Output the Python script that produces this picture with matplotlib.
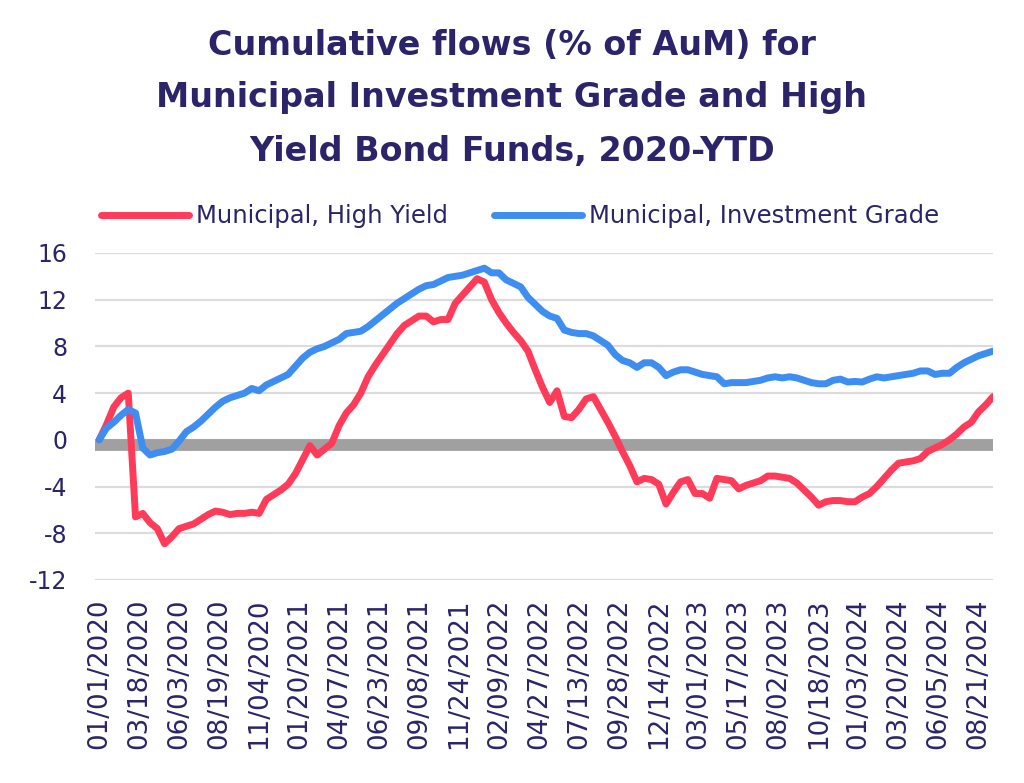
import pandas as pd
import matplotlib.pyplot as plt

plt.rcParams["axes.unicode_minus"] = False

# Datos: flujos acumulados (% de AuM), una lectura cada dos semanas desde 01/01/2020
fechas = pd.date_range("2020-01-01", periods=124, freq="14D")

high_yield = [
    0.0, 1.3, 2.8, 3.6, 4.0, -6.6, -6.3, -7.1, -7.6, -8.9,
    -8.3, -7.6, -7.4, -7.2, -6.8, -6.4, -6.1, -6.2, -6.4, -6.3,
    -6.3, -6.2, -6.3, -5.1, -4.7, -4.3, -3.8, -2.9, -1.7, -0.5,
    -1.3, -0.8, -0.3, 1.2, 2.3, 3.0, 4.0, 5.4, 6.4, 7.3,
    8.2, 9.1, 9.8, 10.2, 10.6, 10.6, 10.1, 10.3, 10.3, 11.7,
    12.4, 13.1, 13.8, 13.5, 12.0, 10.9, 10.0, 9.2, 8.5, 7.6,
    6.0, 4.5, 3.2, 4.2, 2.0, 1.9, 2.6, 3.5, 3.7, 2.6,
    1.5, 0.3, -1.0, -2.2, -3.6, -3.3, -3.4, -3.8, -5.5, -4.5,
    -3.6, -3.4, -4.6, -4.6, -5.0, -3.3, -3.4, -3.5, -4.2, -3.9,
    -3.7, -3.5, -3.1, -3.1, -3.2, -3.3, -3.7, -4.3, -4.9, -5.6,
    -5.3, -5.2, -5.2, -5.3, -5.3, -4.9, -4.6, -4.0, -3.3, -2.6,
    -2.0, -1.9, -1.8, -1.6, -1.0, -0.7, -0.4, 0.0, 0.5, 1.1,
    1.5, 2.4, 3.0, 3.7,
]

investment_grade = [
    0.0, 1.0, 1.5, 2.1, 2.6, 2.3, -0.7, -1.3, -1.1, -1.0,
    -0.8, -0.1, 0.7, 1.1, 1.6, 2.2, 2.8, 3.3, 3.6, 3.8,
    4.0, 4.4, 4.2, 4.7, 5.0, 5.3, 5.6, 6.3, 7.0, 7.5,
    7.8, 8.0, 8.3, 8.6, 9.1, 9.2, 9.3, 9.7, 10.2, 10.7,
    11.2, 11.7, 12.1, 12.5, 12.9, 13.2, 13.3, 13.6, 13.9, 14.0,
    14.1, 14.3, 14.5, 14.7, 14.3, 14.3, 13.7, 13.4, 13.1, 12.2,
    11.6, 11.0, 10.6, 10.4, 9.4, 9.2, 9.1, 9.1, 8.9, 8.5,
    8.1, 7.3, 6.8, 6.6, 6.2, 6.6, 6.6, 6.2, 5.5, 5.8,
    6.0, 6.0, 5.8, 5.6, 5.5, 5.4, 4.8, 4.9, 4.9, 4.9,
    5.0, 5.1, 5.3, 5.4, 5.3, 5.4, 5.3, 5.1, 4.9, 4.8,
    4.8, 5.1, 5.2, 4.95, 5.0, 4.95, 5.2, 5.4, 5.3, 5.4,
    5.5, 5.6, 5.7, 5.9, 5.9, 5.6, 5.7, 5.7, 6.2, 6.6,
    6.9, 7.2, 7.4, 7.6,
]

# Etiquetas del eje x cada 11 semanas
fechas_ticks = pd.date_range("2020-01-01", periods=23, freq="77D")
yticks = [-12, -8, -4, 0, 4, 8, 12, 16]

azul_oscuro = "#2b2468"
rojo = "#ff3b5a"
azul = "#3d8ef0"

fig = plt.figure(figsize=(10.24, 7.83), dpi=100)
ax = fig.add_axes([0.0928, 0.2593, 0.877, 0.4176])

ax.plot(fechas, high_yield, color=rojo, lw=5, solid_capstyle="round",
        solid_joinstyle="round", label="Municipal, High Yield", zorder=4)
ax.plot(fechas, investment_grade, color=azul, lw=5, solid_capstyle="round",
        solid_joinstyle="round", label="Municipal, Investment Grade", zorder=4)

# Banda gris del eje cero
ax.axhline(-0.45, color="#a0a0a0", lw=8.5, zorder=3)

ax.set_ylim(-12, 16)
ax.set_yticks(yticks)
ax.set_xlim(fechas[0] - pd.Timedelta(days=8), fechas[-1])
ax.set_xticks(fechas_ticks)
ax.set_xticklabels([d.strftime("%m/%d/%Y") for d in fechas_ticks], rotation=90)

ax.grid(axis="y", color="#dcdcdc", lw=1.6, zorder=0)
ax.set_axisbelow(True)
for s in ax.spines.values():
    s.set_visible(False)
ax.tick_params(axis="both", length=0, colors=azul_oscuro)
ax.tick_params(axis="y", labelsize=17, pad=20)
ax.tick_params(axis="x", labelsize=18.8, pad=13)

fig.text(0.5, 0.942, "Cumulative flows (% of AuM) for", ha="center", va="center",
         fontsize=24, fontweight="bold", color=azul_oscuro)
fig.text(0.5, 0.876, "Municipal Investment Grade and High", ha="center", va="center",
         fontsize=24, fontweight="bold", color=azul_oscuro)
fig.text(0.5, 0.806, "Yield Bond Funds, 2020-YTD", ha="center", va="center",
         fontsize=24, fontweight="bold", color=azul_oscuro)

leg = fig.legend(loc="center", bbox_to_anchor=(0.508, 0.724), ncol=2, frameon=False,
                 fontsize=17.5, handlelength=3.6, handletextpad=0.3, columnspacing=1.9)
for t in leg.get_texts():
    t.set_color(azul_oscuro)

fig.savefig("out.png", dpi=100)
